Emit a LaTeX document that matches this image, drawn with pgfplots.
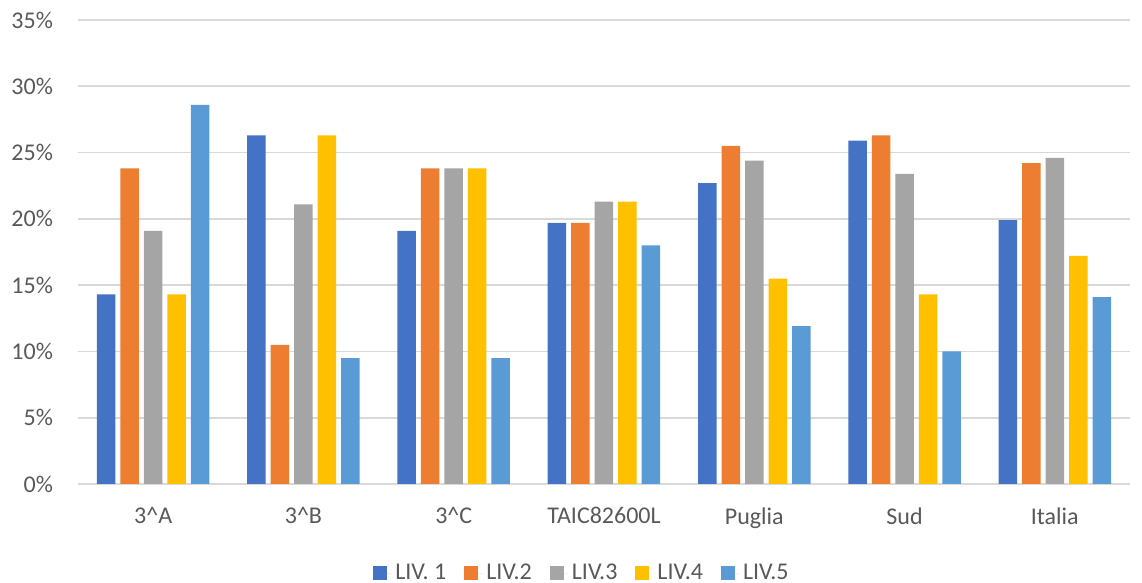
\documentclass[border=0pt]{standalone}
\usepackage{fontspec}
\setmainfont{Carlito}
\usepackage{pgfplots}
\pgfplotsset{compat=1.18}

\definecolor{liv1}{HTML}{4472C4}
\definecolor{liv2}{HTML}{ED7D31}
\definecolor{liv3}{HTML}{A5A5A5}
\definecolor{liv4}{HTML}{FFC000}
\definecolor{liv5}{HTML}{5B9BD5}
\definecolor{gridgray}{HTML}{D9D9D9}
\definecolor{labelgray}{HTML}{595959}

\begin{document}
\begin{tikzpicture}
\useasboundingbox (-39pt,-49.5pt) rectangle (532pt,242pt);
\begin{axis}[
    at={(0pt,0pt)}, anchor=south west,
    scale only axis,
    width=526pt, height=232pt,
    ybar=2.5pt, bar width=9.25pt,
    xmin=-0.5, xmax=6.5,
    ymin=0, ymax=35,
    xtick={0,...,6},
    xticklabels={3\textasciicircum A,3\textasciicircum B,3\textasciicircum C,TAIC82600L,Puglia,Sud,Italia},
    ytick={0,5,...,35},
    yticklabels={0\%,5\%,10\%,15\%,20\%,25\%,30\%,35\%},
    axis line style={draw=none},
    tick style={draw=none},
    ymajorgrids,
    grid style={color=gridgray, line width=0.8pt},
    font=\fontsize{12}{14}\selectfont,
    tick label style={text=labelgray},
    xticklabel style={yshift=-4pt},
    yticklabel style={xshift=-9pt},
    legend columns=5,
    legend style={at={(0.48,-0.192)}, anchor=center, draw=none,
      text=labelgray, font=\fontsize{12}{14}\selectfont,
      /tikz/every even column/.append style={column sep=7pt}},
    legend image code/.code={\fill[#1] (0pt,-3.5pt) rectangle (7pt,3.5pt);
      \path (0pt,0pt) -- (9pt,0pt);},
  ]
  \addplot[fill=liv1, draw=none] coordinates {(0,14.3) (1,26.3) (2,19.1) (3,19.7) (4,22.7) (5,25.9) (6,19.9)};
  \addplot[fill=liv2, draw=none] coordinates {(0,23.8) (1,10.5) (2,23.8) (3,19.7) (4,25.5) (5,26.3) (6,24.2)};
  \addplot[fill=liv3, draw=none] coordinates {(0,19.1) (1,21.1) (2,23.8) (3,21.3) (4,24.4) (5,23.4) (6,24.6)};
  \addplot[fill=liv4, draw=none] coordinates {(0,14.3) (1,26.3) (2,23.8) (3,21.3) (4,15.5) (5,14.3) (6,17.2)};
  \addplot[fill=liv5, draw=none] coordinates {(0,28.6) (1,9.5) (2,9.5) (3,18.0) (4,11.9) (5,10.0) (6,14.1)};
  \legend{LIV. 1,LIV.2,LIV.3,LIV.4,LIV.5}
\end{axis}
\end{tikzpicture}
\end{document}
